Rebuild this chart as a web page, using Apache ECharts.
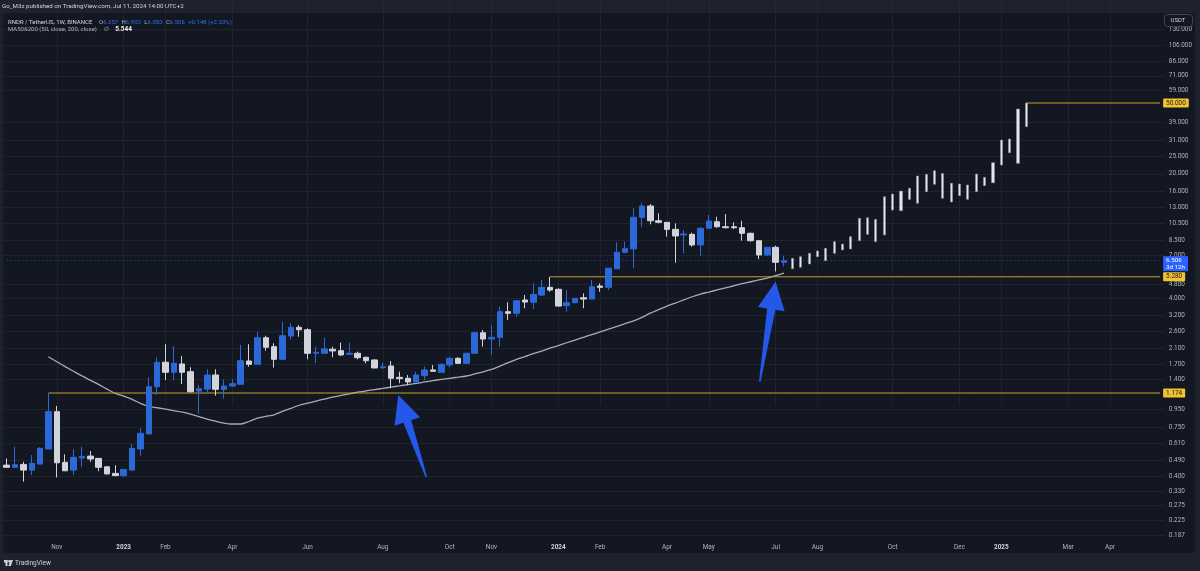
<!DOCTYPE html>
<html><head><meta charset="utf-8">
<script src="https://cdn.jsdelivr.net/npm/echarts@6/dist/echarts.min.js"></script>
<style>html,body{margin:0;padding:0;background:#1e222d;}#c{width:1200px;height:571px;}</style>
</head><body><div id="c"></div>
<script>
// ---- DATA ----
const firstWeek = [2022, 8, 26]; // Monday 2022-09-26 (UTC, month 0-based)
const weekCount = 139;

const opens  = [0.462,0.449,0.466,0.433,0.468,0.569,0.922,0.479,0.433,0.506,0.519,0.504,0.452,0.415,0.403,0.433,0.569,0.691,1.274,1.747,1.535,1.709,1.547,1.205,1.236,1.482,1.231,1.285,1.314,1.776,1.701,2.400,2.138,1.816,2.453,2.745,2.661,1.963,1.963,2.068,2.030,1.938,1.963,1.863,1.800,1.629,1.665,1.438,1.420,1.354,1.469,1.582,1.535,1.687,1.840,1.724,1.963,2.560,2.360,2.412,3.361,3.292,3.908,3.797,4.169,4.605,4.488,3.631,3.774,4.026,3.958,4.683,4.605,5.855,7.249,7.570,11.39,13.19,10.90,10.68,9.750,9.068,9.140,7.968,9.880,10.76,10.09,10.09,9.960,9.270,8.420,7.000,7.733,6.357];
const highs  = [0.504,0.586,0.482,0.526,0.582,1.174,0.993,0.531,0.567,0.586,0.554,0.504,0.456,0.461,0.437,0.607,0.743,1.439,1.863,2.206,2.158,1.895,1.637,1.302,1.596,1.596,1.402,1.402,2.186,2.206,2.593,2.463,2.235,2.953,2.893,2.828,2.710,2.138,2.400,2.138,2.252,2.252,2.004,1.878,1.816,1.738,1.776,1.547,1.482,1.547,1.650,1.687,1.724,1.863,1.863,1.963,2.593,2.651,2.828,3.586,3.800,3.908,4.169,4.850,5.062,5.280,4.546,4.447,3.995,4.262,5.062,4.850,5.900,8.252,8.316,12.80,13.76,13.53,12.00,10.68,10.54,9.670,9.340,10.01,11.74,11.48,11.89,10.68,10.90,9.340,8.500,7.733,7.896,6.902];
const lows   = [0.449,0.449,0.373,0.406,0.468,0.569,0.394,0.429,0.405,0.449,0.482,0.427,0.410,0.401,0.397,0.433,0.522,0.691,1.144,1.389,1.389,1.319,1.178,0.895,1.159,1.134,1.091,1.274,1.314,1.650,1.701,2.030,1.629,1.800,2.351,2.431,1.816,1.724,1.963,1.863,1.895,1.921,1.816,1.724,1.618,1.596,1.248,1.331,1.297,1.354,1.389,1.554,1.527,1.637,1.709,1.709,1.946,2.138,1.921,2.138,3.019,3.151,3.513,3.477,4.116,4.351,3.583,3.361,3.744,3.513,3.958,4.351,4.447,5.855,7.155,5.900,10.01,10.41,10.54,8.870,6.340,7.155,7.800,6.940,9.880,9.960,9.880,9.790,8.420,8.320,6.647,6.910,5.655,6.050];
const closes = [0.449,0.464,0.433,0.473,0.574,0.922,0.476,0.429,0.511,0.517,0.500,0.449,0.412,0.403,0.437,0.574,0.697,1.274,1.747,1.535,1.724,1.535,1.194,1.241,1.482,1.231,1.285,1.324,1.783,1.701,2.400,2.122,1.816,2.463,2.745,2.661,1.963,1.989,2.076,2.023,1.921,1.963,1.854,1.783,1.623,1.650,1.420,1.413,1.354,1.482,1.582,1.554,1.701,1.840,1.724,1.963,2.560,2.360,2.412,3.361,3.292,3.873,3.808,4.207,4.605,4.447,3.616,3.774,3.995,3.958,4.642,4.605,5.900,7.249,7.596,11.39,13.19,10.90,10.68,9.750,8.950,9.190,7.968,9.880,10.86,10.09,9.960,9.960,9.270,8.420,7.000,7.733,6.370,6.506];
const maValues = [null,null,null,null,null,1.878,1.758,1.652,1.555,1.465,1.387,1.312,1.235,1.168,1.126,1.082,1.027,0.989,0.970,0.952,0.934,0.916,0.892,0.865,0.837,0.815,0.796,0.786,0.786,0.812,0.849,0.868,0.886,0.925,0.962,1.002,1.029,1.058,1.085,1.112,1.137,1.162,1.186,1.208,1.227,1.246,1.267,1.287,1.309,1.329,1.354,1.378,1.400,1.420,1.440,1.463,1.503,1.545,1.593,1.663,1.738,1.816,1.880,1.951,2.020,2.095,2.169,2.249,2.329,2.412,2.498,2.586,2.682,2.777,2.880,2.984,3.126,3.297,3.449,3.610,3.759,3.913,4.078,4.223,4.334,4.453,4.576,4.702,4.837,4.951,5.068,5.187,5.358,5.544];
// projected bars (drawn pattern) : highs and lows, one per week after the last candle
const projHighs = [6.707,6.848,7.155,7.372,7.633,8.316,8.070,8.870,11.25,11.33,11.10,14.88,15.41,16.00,16.59,19.44,19.87,20.82,20.10,17.70,17.54,17.31,19.95,19.11,23.10,31.00,31.38,46.27,50.00];
const projLows  = [5.855,5.972,6.231,6.848,6.503,7.155,7.470,7.566,8.420,9.140,8.320,9.070,12.52,12.41,14.38,13.66,15.88,17.47,14.58,13.89,15.08,14.38,15.88,17.16,17.82,22.43,26.29,22.93,36.79];

const yTicks = [130,106,86,71,59,39,31,25,20,16,13,10.5,8.5,7,4.8,4,3.2,2.6,2.1,1.7,1.4,0.95,0.75,0.61,0.49,0.40,0.33,0.275,0.225,0.187];
const xLabels = [
  ['2022-11-07','Nov'],['2023-01-02','2023'],['2023-02-06','Feb'],['2023-04-03','Apr'],['2023-06-05','Jun'],
  ['2023-08-07','Aug'],['2023-10-02','Oct'],['2023-11-06','Nov'],['2024-01-01','2024'],['2024-02-05','Feb'],
  ['2024-04-01','Apr'],['2024-05-06','May'],['2024-07-01','Jul'],['2024-08-05','Aug'],['2024-10-07','Oct'],
  ['2024-12-02','Dec'],['2025-01-06','2025'],['2025-03-03','Mar'],['2025-04-07','Apr']];
// horizontal rays: [start week index, price]
const rays = [[5, 1.174], [65, 5.28], [122, 50.0]];
const lastPrice = 6.506;
const lastPriceTag = '6.506\n3d 12h';
const arrows = [ {from:[50.2, 0.396], to:[46.85, 1.144]}, {from:[90.1, 1.354], to:[92.0, 4.97]} ];

// ---- BUILD ----
const L = Math.log;
const categories = [];
for (let i = 0; i < weekCount; i++) {
  const d = new Date(Date.UTC(firstWeek[0], firstWeek[1], firstWeek[2]) + i * 7 * 86400000);
  categories.push(d.toISOString().slice(0, 10));
}
const labelMap = {}; xLabels.forEach(p => labelMap[p[0]] = p[1]);
const showLabel = (idx, val) => labelMap[categories[idx]] !== undefined;

const candleData = categories.map((c, i) => i < opens.length ? [L(opens[i]), L(closes[i]), L(lows[i]), L(highs[i])] : '-');
const projStart = opens.length;
const projData = categories.map((c, i) => {
  const j = i - projStart;
  return (j >= 0 && j < projHighs.length) ? [L(projLows[j]), L(projHighs[j]), L(projLows[j]), L(projHighs[j])] : '-';
});
const maData = categories.map((c, i) => (i < maValues.length && maValues[i] != null) ? L(maValues[i]) : '-');

const UP = '#2b69d8', DOWN = '#d1d4dc', GOLD = '#c9a227', GOLDBG = '#f2c230', BLUE = '#2962ff';
const FONT = 'Roboto, "Noto Sans", sans-serif';
const gridCol = 'rgba(42,46,57,0.55)';

// horizontal level series (a constant level from start week to the right edge)
const levelSeries = rays.map(r => ({
  name: 'level ' + r[1], type: 'line', symbol: 'none', z: 2, silent: true,
  data: categories.map((c, i) => i >= r[0] ? L(r[1]) : '-'),
  lineStyle: { color: GOLD, width: 1 }, itemStyle: { color: GOLD },
  endLabel: { show: true, formatter: r[1].toFixed(3), distance: 3, backgroundColor: GOLDBG, color: '#131722',
              fontSize: 6.4, padding: [2, 3, 1, 3], borderRadius: 1 }
}));
const lastPriceSeries = {
  name: 'last', type: 'line', symbol: 'none', z: 2, silent: true,
  data: categories.map(() => L(lastPrice)),
  lineStyle: { color: BLUE, width: 1, type: [1.5, 2.5], opacity: 0.5 }, itemStyle: { color: BLUE },
  endLabel: { show: true, formatter: lastPriceTag, distance: 3, backgroundColor: BLUE, color: '#ffffff',
              fontSize: 6.2, lineHeight: 7, padding: [1, 3, 0, 3], offset: [0, 3] }
};

const chart = echarts.init(document.getElementById('c'), null, { renderer: 'canvas' });
const option = {
  animation: false,
  backgroundColor: '#1e222d',
  textStyle: { fontFamily: FONT },
  grid: { left: 2.5, right: 35.7, top: 13, bottom: 33, containLabel: false },
  xAxis: {
    type: 'category', data: categories, boundaryGap: true,
    axisLine: { show: false },
    axisTick: { show: true, inside: true, length: 525, alignWithLabel: true, interval: showLabel, lineStyle: { color: gridCol, width: 1 } },
    axisLabel: {
      interval: showLabel, color: '#b2b5be', fontSize: 6.4, margin: 6,
      formatter: v => { const t = labelMap[v]; if (!t) return ''; return /^\d{4}$/.test(t) ? '{b|' + t + '}' : t; },
      rich: { b: { fontWeight: 'bold', color: '#d1d4dc', fontSize: 6.4 } }
    },
    splitLine: { show: false }
  },
  yAxis: {
    type: 'value', position: 'right', min: L(0.1799), max: L(160.2),
    axisLine: { show: false }, splitLine: { show: false },
    axisTick: { show: true, inside: true, length: 1162, customValues: yTicks.map(L), lineStyle: { color: gridCol, width: 1 } },
    axisLabel: { customValues: yTicks.map(L), formatter: v => Math.exp(v).toFixed(3), color: '#b2b5be', fontSize: 6.4, margin: 4.5 }
  },
  series: [
    {
      name: 'MA50', type: 'line', data: maData, symbol: 'none', smooth: 0.3, z: 1,
      lineStyle: { color: '#a9acb5', width: 1.3 }, itemStyle: { color: '#a9acb5' }, silent: true
    }
  ].concat(levelSeries, [lastPriceSeries,
    {
      name: 'RNDR', type: 'candlestick', data: candleData, barWidth: 6, z: 3,
      itemStyle: { color: UP, color0: DOWN, borderColor: UP, borderColor0: DOWN, borderWidth: 1 }
    },
    {
      name: 'Projection', type: 'candlestick', data: projData, barWidth: 2.6, z: 3,
      itemStyle: { color: '#e4e6ec', color0: '#e4e6ec', borderColor: '#8d919a', borderColor0: '#8d919a', borderWidth: 0.6 }
    }
  ]),
  graphic: [
    { type: 'rect', z: -10, silent: true, shape: { x: 3, y: 13, width: 1192, height: 540, r: 3 }, style: { fill: '#131722' } },
    { type: 'text', z: 100, left: 2, top: 3.5, style: { text: 'Go_M3z published on TradingView.com, Jul 11, 2024 14:00 UTC+2', fill: '#d1d4dc', font: '6.2px ' + FONT } },
    { type: 'text', z: 100, left: 8, top: 16, style: {
        text: '{t|RNDR / TetherUS, 1W, BINANCE}  {l|O}{v|6.357} {l|H}{v|6.902} {l|L}{v|6.050} {l|C}{v|6.506} {v|+0.148 (+2.33%)}',
        rich: { t: { fill: '#d1d4dc', font: '6px ' + FONT }, l: { fill: '#b2b5be', font: '6px ' + FONT }, v: { fill: '#2e6ff0', font: '6px ' + FONT } } } },
    { type: 'text', z: 100, left: 8, top: 23.5, style: {
        text: '{t|MA50&200 (50, close, 200, close)}  {t|∅}  {w|5.544}',
        rich: { t: { fill: '#b2b5be', font: '6px ' + FONT }, w: { fill: '#e8eaf0', font: 'bold 6.5px ' + FONT } } } },
    { type: 'rect', z: 100, shape: { x: 1164.5, y: 14.5, width: 28, height: 12, r: 3 }, style: { fill: '#131722', stroke: '#434651', lineWidth: 1 } },
    { type: 'text', z: 101, left: 1170.5, top: 17.5, style: { text: 'USDT', fill: '#d1d4dc', font: '6px ' + FONT } },
    { type: 'rect', z: 100, shape: { x: 4, y: 560, width: 3.5, height: 2.5 }, style: { fill: '#d1d4dc' } },
    { type: 'rect', z: 100, shape: { x: 5.5, y: 560, width: 2, height: 6 }, style: { fill: '#d1d4dc' } },
    { type: 'circle', z: 100, shape: { cx: 9.3, cy: 561.2, r: 1.2 }, style: { fill: '#d1d4dc' } },
    { type: 'polygon', z: 100, shape: { points: [[10.5, 560], [13, 560], [10.8, 566], [8.3, 566]] }, style: { fill: '#d1d4dc' } },
    { type: 'text', z: 100, left: 15, top: 559.5, style: { text: 'TradingView', fill: '#d1d4dc', font: '6.5px ' + FONT } }
  ]
};
chart.setOption(option);

// Arrow annotations, anchored in data space (week index, price)
function toPx(idx, price) {
  const p0 = chart.convertToPixel({ gridIndex: 0 }, [0, L(price)]);
  const p1 = chart.convertToPixel({ gridIndex: 0 }, [1, L(price)]);
  return [p0[0] + idx * (p1[0] - p0[0]), p0[1]];
}
const arrowEls = arrows.map(a => {
  const T = toPx(a.from[0], a.from[1]), P = toPx(a.to[0], a.to[1]);
  const dx = P[0] - T[0], dy = P[1] - T[1], len = Math.hypot(dx, dy);
  const d = [dx / len, dy / len], n = [-d[1], d[0]];
  const headLen = 28, headHalf = 13.5, shaftHalf = 4.2, tailHalf = 0.8;
  const B = [P[0] - d[0] * headLen, P[1] - d[1] * headLen];
  const pt = (o, k) => [o[0] + n[0] * k, o[1] + n[1] * k];
  return { type: 'polygon', z: 90, silent: true,
    shape: { points: [pt(T, tailHalf), pt(B, shaftHalf), pt(B, headHalf), P, pt(B, -headHalf), pt(B, -shaftHalf), pt(T, -tailHalf)] },
    style: { fill: '#2358e9' } };
});
chart.setOption({ graphic: option.graphic.concat(arrowEls) });
</script>
</body></html>
